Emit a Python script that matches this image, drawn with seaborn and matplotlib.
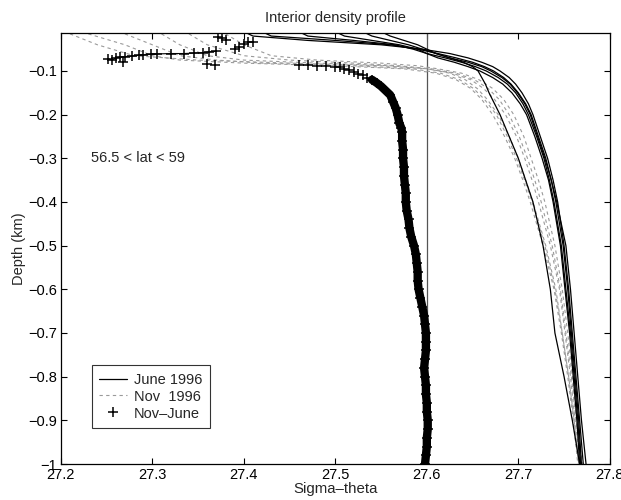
import numpy as np
import pandas as pd
import matplotlib
matplotlib.use("Agg")
import matplotlib.pyplot as plt
import seaborn as sns
from matplotlib.lines import Line2D
from matplotlib.ticker import FuncFormatter

# ---------------- data ----------------
june_depth = [-0.01, -0.02, -0.03, -0.04, -0.05, -0.06, -0.07, -0.08, -0.09, -0.1, -0.115,
              -0.13, -0.15, -0.175, -0.2, -0.25, -0.3, -0.35, -0.4, -0.5, -0.6, -0.7,
              -0.8, -0.9, -1.0]
june_1 = [27.40, 27.41, 27.47, 27.55, 27.595, 27.625, 27.645, 27.66, 27.672, 27.68, 27.69,
          27.697, 27.704, 27.711, 27.716, 27.724, 27.732, 27.738, 27.743, 27.750, 27.755,
          27.759, 27.763, 27.767, 27.771]
june_2 = [27.42, 27.43, 27.50, 27.56, 27.59, 27.612, 27.632, 27.65, 27.663, 27.673, 27.684,
          27.692, 27.700, 27.708, 27.714, 27.722, 27.730, 27.736, 27.741, 27.749, 27.754,
          27.758, 27.762, 27.766, 27.769]
june_3 = [27.46, 27.47, 27.52, 27.565, 27.585, 27.60, 27.62, 27.638, 27.653, 27.665, 27.678,
          27.688, 27.697, 27.705, 27.711, 27.72, 27.728, 27.734, 27.739, 27.747, 27.752,
          27.757, 27.761, 27.765, 27.768]
june_4 = [27.50, 27.51, 27.54, 27.57, 27.59, 27.60, 27.612, 27.63, 27.645, 27.658, 27.672,
          27.683, 27.693, 27.702, 27.709, 27.718, 27.726, 27.733, 27.738, 27.746, 27.751,
          27.756, 27.760, 27.764, 27.767]
june_5 = [27.53, 27.54, 27.56, 27.58, 27.595, 27.61, 27.625, 27.64, 27.65, 27.656, 27.66,
          27.664, 27.668, 27.674, 27.68, 27.69, 27.70, 27.708, 27.716, 27.727, 27.735,
          27.740, 27.750, 27.759, 27.767]
june_6 = [27.55, 27.56, 27.575, 27.59, 27.60, 27.61, 27.625, 27.645, 27.66, 27.67, 27.682,
          27.691, 27.699, 27.707, 27.713, 27.721, 27.729, 27.736, 27.742, 27.752, 27.757,
          27.761, 27.765, 27.769, 27.774]

nov_depth = [-0.015, -0.04, -0.065, -0.075, -0.082, -0.088, -0.095, -0.105, -0.12, -0.14,
             -0.165, -0.2, -0.25, -0.3, -0.35, -0.4, -0.5, -0.6, -0.7, -0.8, -0.9, -1.0]
nov_1 = [27.21, 27.24, 27.28, 27.35, 27.45, 27.55, 27.60, 27.625, 27.642, 27.655, 27.666,
         27.678, 27.69, 27.70, 27.708, 27.716, 27.73, 27.741, 27.748, 27.755, 27.761, 27.766]
nov_2 = [27.23, 27.27, 27.30, 27.33, 27.40, 27.50, 27.575, 27.61, 27.632, 27.648, 27.66,
         27.672, 27.685, 27.696, 27.705, 27.713, 27.727, 27.739, 27.747, 27.754, 27.76, 27.765]
nov_3 = [27.27, 27.30, 27.33, 27.37, 27.42, 27.52, 27.585, 27.615, 27.636, 27.651, 27.663,
         27.676, 27.688, 27.698, 27.707, 27.715, 27.729, 27.740, 27.748, 27.755, 27.761, 27.766]
nov_4 = [27.31, 27.33, 27.36, 27.40, 27.48, 27.56, 27.60, 27.628, 27.648, 27.662, 27.674,
         27.686, 27.698, 27.707, 27.715, 27.722, 27.735, 27.745, 27.751, 27.757, 27.762, 27.768]
nov_5 = [27.34, 27.36, 27.40, 27.45, 27.52, 27.57, 27.605, 27.632, 27.652, 27.667, 27.679,
         27.69, 27.701, 27.71, 27.718, 27.725, 27.737, 27.746, 27.752, 27.758, 27.763, 27.769]
nov_6 = [27.38, 27.40, 27.43, 27.48, 27.55, 27.59, 27.612, 27.638, 27.657, 27.672, 27.684,
         27.695, 27.706, 27.714, 27.722, 27.729, 27.74, 27.748, 27.754, 27.759, 27.764, 27.77]

# Nov - June difference (offset by 27.6)
diff_sigma = [27.252, 27.256, 27.260, 27.265, 27.270, 27.278, 27.285, 27.290, 27.298, 27.305,
              27.320, 27.335, 27.345, 27.355, 27.362, 27.370, 27.372, 27.376, 27.380, 27.390,
              27.395, 27.400, 27.405, 27.410, 27.460, 27.470, 27.480, 27.490, 27.500, 27.505,
              27.510, 27.515, 27.520, 27.525, 27.530, 27.535, 27.540, 27.545, 27.550, 27.555,
              27.560, 27.563, 27.566, 27.568, 27.570, 27.572,
              27.573, 27.573, 27.574, 27.574, 27.575, 27.575, 27.576, 27.577, 27.577, 27.578,
              27.580, 27.581, 27.583, 27.586, 27.588, 27.589, 27.590, 27.590, 27.591, 27.593,
              27.595, 27.597, 27.598, 27.599, 27.599, 27.599, 27.598, 27.597, 27.598, 27.599,
              27.599, 27.600, 27.600, 27.601, 27.601, 27.600, 27.600, 27.599, 27.598]
diff_depth = [-0.072, -0.075, -0.070, -0.068, -0.067, -0.066, -0.064, -0.063, -0.062, -0.061,
              -0.060, -0.060, -0.059, -0.058, -0.056, -0.055, -0.022, -0.025, -0.028, -0.050,
              -0.045, -0.038, -0.034, -0.033, -0.086, -0.087, -0.088, -0.089, -0.090, -0.092,
              -0.095, -0.098, -0.102, -0.106, -0.110, -0.115, -0.120, -0.127, -0.135, -0.145,
              -0.155, -0.170, -0.185, -0.200, -0.220, -0.230,
              -0.24, -0.26, -0.28, -0.30, -0.32, -0.34, -0.36, -0.38, -0.40, -0.42,
              -0.44, -0.46, -0.48, -0.50, -0.52, -0.54, -0.56, -0.58, -0.60, -0.62,
              -0.64, -0.66, -0.68, -0.70, -0.72, -0.74, -0.76, -0.78, -0.80, -0.82,
              -0.84, -0.86, -0.88, -0.90, -0.92, -0.94, -0.96, -0.98, -1.00]
stray_sigma = [27.268, 27.360, 27.368]
stray_depth = [-0.080, -0.084, -0.086]

x_ticks = [27.2, 27.3, 27.4, 27.5, 27.6, 27.7, 27.8]
y_ticks = [-0.1, -0.2, -0.3, -0.4, -0.5, -0.6, -0.7, -0.8, -0.9, -1.0]
legend_labels = ["June 1996", "Nov  1996", "Nov\u2013June"]

# ---------------- plot ----------------
sns.set_style("ticks")
plt.rcParams["font.family"] = ["Liberation Sans", "DejaVu Sans"]
plt.rcParams["axes.unicode_minus"] = True

fig = plt.figure(figsize=(6.21, 5.0), dpi=100)
ax = fig.add_axes([0.098, 0.072, 0.884, 0.862])

nov_color = "#9a9a9a"
for prof in [nov_1, nov_2, nov_3, nov_4, nov_5, nov_6]:
    sns.lineplot(x=prof, y=nov_depth, orient="y", sort=False, estimator=None,
                 color=nov_color, lw=0.8, ax=ax)
    ax.lines[-1].set_dashes((3, 3))

for prof in [june_1, june_2, june_3, june_4, june_5, june_6]:
    sns.lineplot(x=prof, y=june_depth, orient="y", sort=False, estimator=None,
                 color="black", lw=0.9, ax=ax)

ds = np.array(diff_sigma)
dd = np.array(diff_depth)
deep = dd <= -0.12
sns.lineplot(x=ds[deep], y=dd[deep], orient="y", sort=False, estimator=None,
             color="black", lw=6, ax=ax)
sns.lineplot(x=ds[:16], y=dd[:16], orient="y", sort=False, estimator=None,
             color="black", lw=0.8, ax=ax)
sns.scatterplot(x=diff_sigma + stray_sigma, y=diff_depth + stray_depth, marker="+",
                s=55, color="black", linewidth=1.1, ax=ax, zorder=5)

ax.axvline(27.6, color="#555555", lw=0.9, zorder=1)

ax.set_xlim(27.2, 27.8)
ax.set_ylim(-1.0, -0.013)
ax.set_xticks(x_ticks)
ax.set_yticks(y_ticks)
ax.yaxis.set_major_formatter(FuncFormatter(lambda v, p: ("%g" % v).replace("-", "\u2212")))
ax.tick_params(direction="in", top=True, right=True, length=4, width=0.8,
               labelsize=10.5, colors="black", pad=3)
for s in ax.spines.values():
    s.set_linewidth(0.9)
    s.set_color("black")

ax.set_title("Interior density profile", fontsize=10.5, pad=8)
ax.set_xlabel("Sigma\u2013theta", fontsize=10.8, labelpad=0)
ax.set_ylabel("Depth (km)", fontsize=10.5, labelpad=1)
ax.text(27.233, -0.3, "56.5 < lat < 59", fontsize=10.5, va="center", ha="left")

handles = [Line2D([], [], color="black", lw=0.9),
           Line2D([], [], color=nov_color, lw=0.8, dashes=(3, 3)),
           Line2D([], [], color="black", lw=0, marker="+", markersize=7, mew=1.1)]
leg = ax.legend(handles, legend_labels, loc="lower left", bbox_to_anchor=(0.056, 0.084),
                borderaxespad=0, fontsize=10.5, frameon=True, fancybox=False,
                edgecolor="black", handlelength=1.9, borderpad=0.5, labelspacing=0.2,
                handletextpad=0.5)
leg.get_frame().set_linewidth(0.8)

fig.savefig("out.png", dpi=100, facecolor="white")
